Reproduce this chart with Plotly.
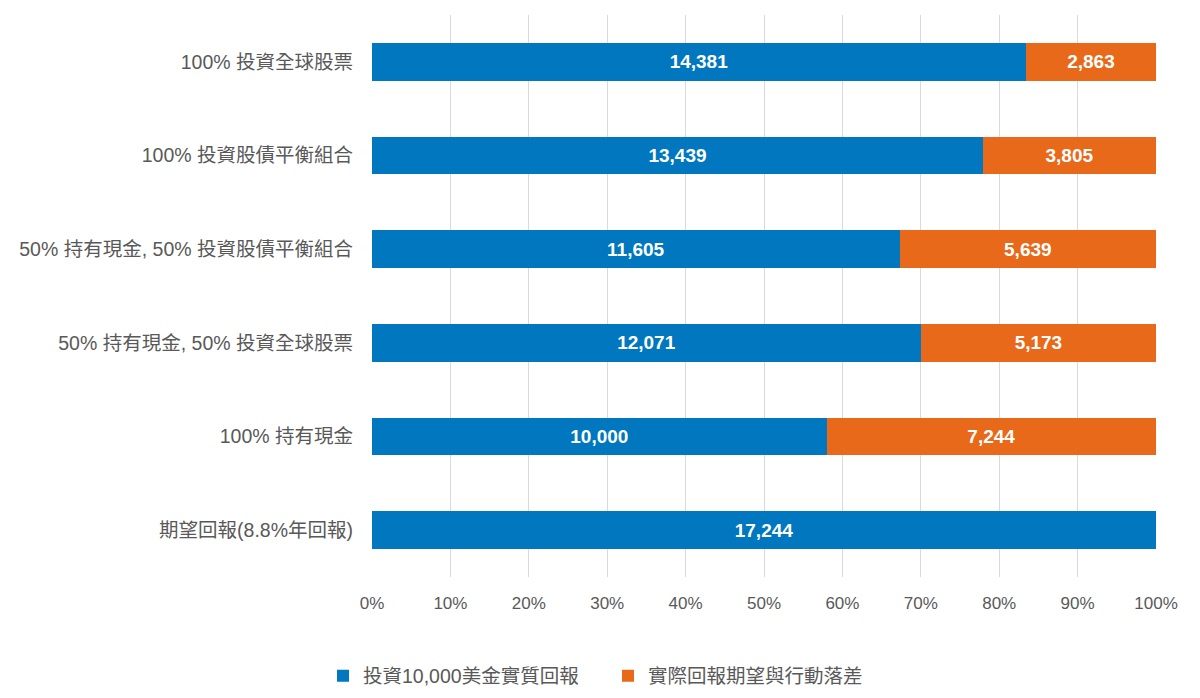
import plotly.graph_objects as go

categories = [
    "100% 投資全球股票",
    "100% 投資股債平衡組合",
    "50% 持有現金, 50% 投資股債平衡組合",
    "50% 持有現金, 50% 投資全球股票",
    "100% 持有現金",
    "期望回報(8.8%年回報)",
]
real_return = [14381, 13439, 11605, 12071, 10000, 17244]
gap = [2863, 3805, 5639, 5173, 7244, 0]
series_names = ["投資10,000美金實質回報", "實際回報期望與行動落差"]
tick_vals = [0, 10, 20, 30, 40, 50, 60, 70, 80, 90, 100]
tick_text = ["0%", "10%", "20%", "30%", "40%", "50%", "60%", "70%", "80%", "90%", "100%"]

FONT = "Liberation Sans, Arial, Noto Sans CJK TC, sans-serif"

def labels(vals):
    return [f"{v:,}" if v else "" for v in vals]

fig = go.Figure()
fig.add_trace(go.Bar(
    y=categories, x=real_return, orientation="h", name=series_names[0],
    marker=dict(color="#0077BE", line=dict(width=0)),
    text=labels(real_return), textposition="inside", insidetextanchor="middle",
    textfont=dict(color="white", size=19, family=FONT, weight="bold"),
    width=0.4,
))
fig.add_trace(go.Bar(
    y=categories, x=gap, orientation="h", name=series_names[1],
    marker=dict(color="#E8691A", line=dict(width=0)),
    text=labels(gap), textposition="inside", insidetextanchor="middle",
    textfont=dict(color="white", size=19, family=FONT, weight="bold"),
    width=0.4,
))

fig.update_layout(
    barmode="stack", barnorm="percent",
    width=1200, height=698,
    margin=dict(l=364, r=52, t=7, b=129),
    plot_bgcolor="white", paper_bgcolor="white",
    font=dict(family=FONT, color="#595959", size=17),
    uniformtext=dict(mode="show", minsize=10),
    legend=dict(orientation="h", xref="container", x=0.5, xanchor="center",
                yref="container", y=0.043, yanchor="middle",
                font=dict(size=19.5, color="#595959"), traceorder="normal",
                itemwidth=30, entrywidth=240, entrywidthmode="pixels"),
    showlegend=True,
)
fig.update_xaxes(range=[0, 100], tickvals=tick_vals, ticktext=tick_text,
                 showgrid=True, gridcolor="#D9D9D9", gridwidth=1,
                 zeroline=False, showline=False, ticks="",
                 tickfont=dict(size=17, color="#595959"), ticklabelstandoff=14)
fig.update_yaxes(autorange="reversed", showgrid=False, showline=False, ticks="",
                 tickfont=dict(size=19.5, color="#595959"), ticklabelstandoff=18)

fig.write_html("out.html")
